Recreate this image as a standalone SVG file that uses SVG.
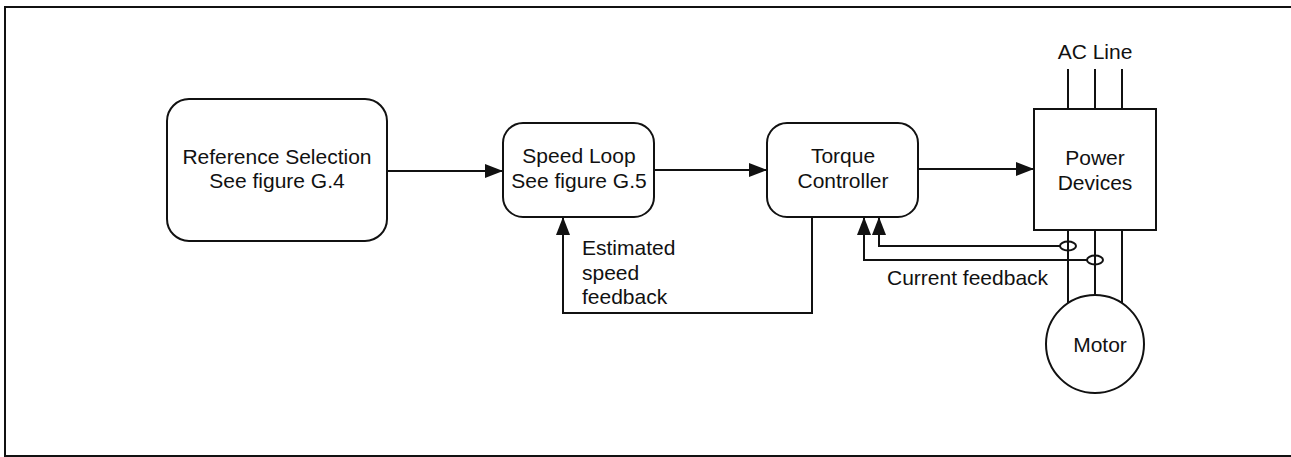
<svg xmlns="http://www.w3.org/2000/svg" width="1291" height="457" viewBox="0 0 1291 457">
<style>
.box{fill:#fff;stroke:#111;stroke-width:2}
.ln{fill:none;stroke:#111;stroke-width:2}
text{font-family:"Liberation Sans",Arial,sans-serif;font-size:21px;fill:#111}
.c{text-anchor:middle}
</style>
<defs>
<marker id="ah" viewBox="0 0 18 14" refX="18" refY="7" markerWidth="18" markerHeight="14" markerUnits="userSpaceOnUse" orient="auto">
<path d="M0,0 L18,7 L0,14 Z" fill="#111"/>
</marker>
</defs>
<rect x="0" y="0" width="1291" height="457" fill="#fff"/>
<path class="ln" d="M1291,7 H5 V456 H1291"/>
<g id="ref-selection">
<rect class="box" x="167" y="99" width="220" height="142" rx="22"/>
<text class="c" x="277" y="164">Reference Selection</text>
<text class="c" x="277" y="188">See figure G.4</text>
</g>
<g id="speed-loop">
<rect class="box" x="503" y="123" width="151" height="94" rx="20"/>
<text class="c" x="579" y="163">Speed Loop</text>
<text class="c" x="579" y="188">See figure G.5</text>
</g>
<g id="torque-controller">
<rect class="box" x="767" y="123" width="151" height="94" rx="20"/>
<text class="c" x="843" y="163">Torque</text>
<text class="c" x="843" y="188">Controller</text>
</g>
<g id="power-devices">
<rect class="box" x="1034" y="109" width="122" height="121"/>
<text class="c" x="1095" y="165">Power</text>
<text class="c" x="1095" y="190">Devices</text>
</g>
<g id="motor">
<circle class="box" cx="1095" cy="344" r="49"/>
<text class="c" x="1100" y="352">Motor</text>
</g>
<g id="ac-line">
<text class="c" x="1095" y="59">AC Line</text>
</g>
<g id="connectors">
<line class="ln" x1="387" y1="171" x2="503" y2="171" marker-end="url(#ah)"/>
<line class="ln" x1="654" y1="170" x2="767" y2="170" marker-end="url(#ah)"/>
<line class="ln" x1="918" y1="169" x2="1034" y2="169" marker-end="url(#ah)"/>
<path class="ln" d="M812,217 V313 H563 V217" marker-end="url(#ah)"/>
<line class="ln" x1="1068" y1="69" x2="1068" y2="109"/>
<line class="ln" x1="1095" y1="69" x2="1095" y2="109"/>
<line class="ln" x1="1122" y1="69" x2="1122" y2="109"/>
<line class="ln" x1="1068" y1="230" x2="1068" y2="303"/>
<line class="ln" x1="1095" y1="230" x2="1095" y2="295"/>
<line class="ln" x1="1122" y1="230" x2="1122" y2="303"/>
<ellipse class="ln" cx="1068" cy="246" rx="8" ry="4.5"/>
<ellipse class="ln" cx="1095" cy="260" rx="8" ry="4.5"/>
<path class="ln" d="M1060,246 H879 V217" marker-end="url(#ah)"/>
<path class="ln" d="M1087,260 H864 V217" marker-end="url(#ah)"/>
<text x="582" y="255">Estimated</text>
<text x="582" y="280">speed</text>
<text x="582" y="304">feedback</text>
<text x="887" y="285">Current feedback</text>
</g>
</svg>
